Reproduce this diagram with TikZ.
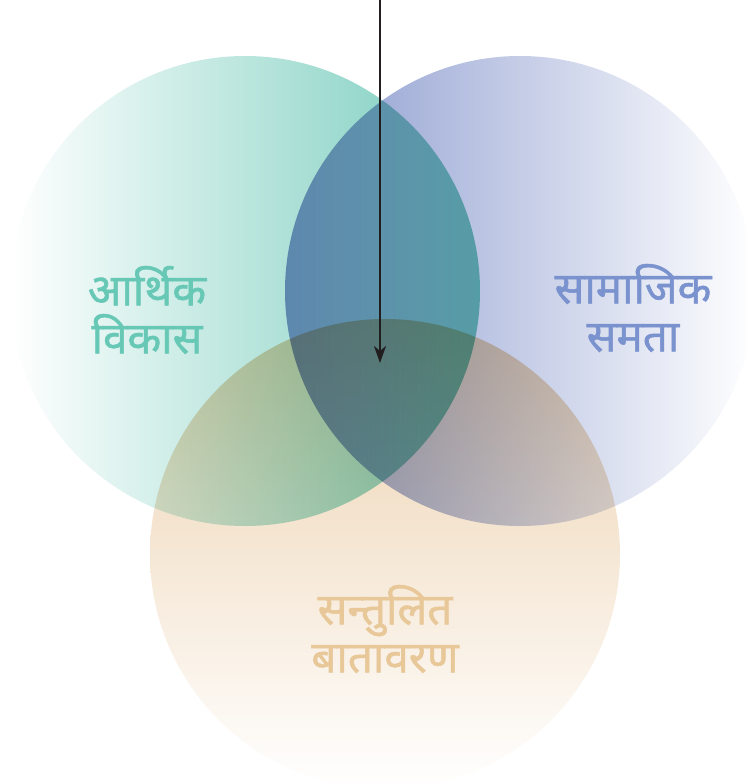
\documentclass[tikz,border=0pt]{standalone}
\usepackage{fontspec}
\newfontfamily\deva[Script=Devanagari, FakeBold=1.2]{Noto Sans}
\usetikzlibrary{arrows.meta}

\definecolor{tealEnd}{RGB}{118,204,188}
\definecolor{blueEnd}{RGB}{138,154,206}
\definecolor{sandEnd}{RGB}{236,208,172}
\definecolor{tealTxt}{RGB}{104,200,182}
\definecolor{blueTxt}{RGB}{122,146,206}
\definecolor{sandTxt}{RGB}{232,200,152}
\definecolor{arrowInk}{RGB}{34,30,32}

\tikzset{
    label/.style={font=\deva\fontsize{44}{48}\selectfont, align=center, inner sep=0pt},
}

\begin{document}
\begin{tikzpicture}[x=1pt, y=-1pt]

    % ==========================================
    % 1. COORDINATES FOR GEOMETRY
    % ==========================================
    \useasboundingbox (0,0) rectangle (747,784);
    \coordinate (EcoC) at (245, 291);
    \coordinate (SocC) at (520, 291);
    \coordinate (EnvC) at (385, 554);

    % ==========================================
    % 2. OVERLAPPING CIRCLES (multiplied)
    % ==========================================
    \begin{scope}[blend group=multiply]
        \clip (0,0) rectangle (747,784);

        % Left circle (teal, fades to the left)
        \shade[left color=white, right color=tealEnd]
            (EcoC) circle (235);

        % Right circle (blue, fades to the right)
        \shade[left color=blueEnd, right color=white]
            (SocC) circle (235);

        % Bottom circle (sand, fades downwards)
        \shade[top color=sandEnd, bottom color=white]
            (EnvC) circle (235);
    \end{scope}

    % ==========================================
    % 3. LABELS & ARROW
    % ==========================================
    \node[label, text=tealTxt] (eco) at (147, 310) {आर्थिक\\विकास};
    \node[label, text=blueTxt] (soc) at (633, 308) {सामाजिक\\समता};
    \node[label, text=sandTxt] (env) at (385, 629) {सन्तुलित\\बातावरण};

    \coordinate (ArrTop) at (380, 0);
    \coordinate (ArrTip) at (380, 363);
    \draw[arrowInk, line width=2.4pt, -{Stealth[length=17pt, width=12pt, inset=5pt]}]
        (ArrTop) -- (ArrTip);

\end{tikzpicture}
\end{document}
